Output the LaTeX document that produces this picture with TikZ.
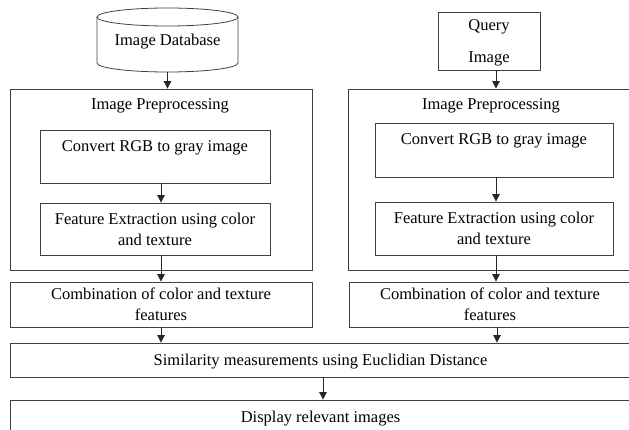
\documentclass[tikz,border=0pt]{standalone}
\usepackage{fontspec}
\setmainfont{Liberation Serif}
\usetikzlibrary{arrows.meta}
\begin{document}
\begin{tikzpicture}[x=1pt,y=-1pt,
  every node/.style={font=\fontsize{16.5}{21}\selectfont, text=black, inner sep=0pt, text depth=0pt},
  box/.style={draw=black!75, line width=0.8pt, rectangle, align=center},
  arr/.style={draw=black!85, line width=0.8pt, -{Triangle[length=7.5pt,width=7.5pt]}},
  lin/.style={draw=black!75, line width=0.8pt}]
\useasboundingbox (0,0) rectangle (629,430);
% database cylinder
\node (db) at (167.5,40) [minimum width=141pt, minimum height=64pt] {Image Database};
\draw[lin] (97,17) -- (97,63) arc[start angle=180, end angle=360, x radius=70.5, y radius=-9] -- (238,17);
\draw[lin] (167.5,17) ellipse[x radius=70.5, y radius=9];
% query box
\node[box, minimum width=102pt, minimum height=58pt] (q) at (489,41) {Query\\[11pt]Image};
% big boxes
\node[box, minimum width=302pt, minimum height=181pt] (bigL) at (161,179.5) {};
\node (tL) at (160,104) {Image Preprocessing};
\node[box, minimum width=283pt, minimum height=181pt] (bigR) at (489.5,179.5) {};
\node (tR) at (491,104) {Image Preprocessing};
% inner boxes
\node[box, minimum width=230pt, minimum height=53pt] (cL) at (155,156.5) {Convert RGB to gray image\\\mbox{}};
\node[box, minimum width=230pt, minimum height=52pt] (fL) at (155,229) {Feature Extraction using color\\and texture};
\node[box, minimum width=238pt, minimum height=54pt] (cR) at (494,150) {Convert RGB to gray image\\\mbox{}};
\node[box, minimum width=238pt, minimum height=53pt] (fR) at (494,228.5) {Feature Extraction using color\\and texture};
% combination
\node[box, minimum width=302pt, minimum height=45pt] (mL) at (161,304.5) {Combination of color and texture\\features};
\node[box, minimum width=282pt, minimum height=45pt] (mR) at (490,304.5) {Combination of color and texture\\features};
% similarity and display
\node[box, minimum width=621pt, minimum height=34pt] (sim) at (320.5,360) {Similarity measurements using Euclidian Distance};
\node[box, minimum width=621pt, minimum height=34pt] (disp) at (320.5,417) {Display relevant images};
% arrows
\draw[arr] (db.south) -- (db.south |- bigL.north);
\draw[arr] ([xshift=7pt]q.south) -- ([xshift=7pt]q.south |- bigR.north);
\draw[arr] (cL.south -| bigL.south) -- (fL.north -| bigL.south);
\draw[arr] (fL.south -| bigL.south) -- (mL.north);
\draw[arr] (mL.south) -- (mL.south |- sim.north);
\draw[arr] ([xshift=2pt]cR.south) -- ([xshift=2pt]fR.north);
\draw[arr] ([xshift=2pt]fR.south) -- ([xshift=2pt]fR.south |- mR.north);
\draw[arr] ([xshift=7pt]mR.south) -- ([xshift=7pt]mR.south |- sim.north);
\draw[arr] ([xshift=2.5pt]sim.south) -- ([xshift=2.5pt]disp.north);
\end{tikzpicture}
\end{document}
